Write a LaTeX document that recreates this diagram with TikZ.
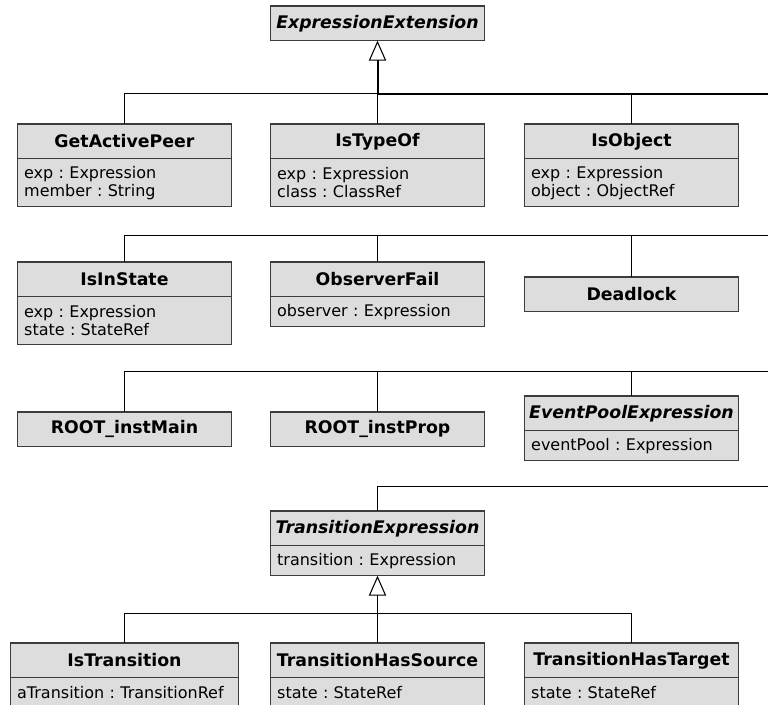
\documentclass[tikz,border=0pt]{standalone}
\usepackage{fontspec}
\setmainfont{DejaVu Sans}
\usetikzlibrary{positioning,arrows.meta}
\definecolor{classfill}{RGB}{221,221,221}
\definecolor{classline}{RGB}{60,60,60}
\frenchspacing
\tikzset{
 hdr/.style={draw=classline,fill=classfill,line width=0.8pt,minimum width=160.5pt,
  minimum height=26pt,anchor=north,inner sep=0pt,outer sep=0pt,
  font=\fontsize{13}{15}\selectfont\bfseries},
 abstr/.style={hdr,font=\fontsize{13}{15}\selectfont\bfseries\itshape},
 attrs/.style={draw=classline,fill=classfill,line width=0.8pt,text width=150.5pt,
  inner xsep=5pt,inner ysep=4pt,outer sep=0pt,align=left,minimum height=22.5pt,
  font=\fontsize{12}{13.5}\selectfont},
 two/.style={minimum height=36pt},
 conn/.style={line width=0.75pt},
 trunk/.style={line width=1.5pt},
 gen/.style={-{Triangle[open,length=15pt,width=13pt,line width=0.8pt]}}
}
\begin{document}
\begin{tikzpicture}[x=0.75pt,y=-0.75pt]
 \useasboundingbox (0,0) rectangle (768,704);
 % super class
 \node[abstr] (exprext) at (377.5,6) {ExpressionExtension};
 % first row
 \node[hdr] (getpeer) at (124.5,124) {GetActivePeer};
 \node[attrs,two,below=0pt of getpeer] (getpeer-a) {exp : Expression\\member : String};
 \node[hdr] (istypeof) at (377.5,124) {IsTypeOf};
 \node[attrs,two,below=0pt of istypeof] (istypeof-a) {exp : Expression\\class : ClassRef};
 \node[hdr] (isobject) at (631.5,124) {IsObject};
 \node[attrs,two,below=0pt of isobject] (isobject-a) {exp : Expression\\object : ObjectRef};
 % second row
 \node[hdr] (isinstate) at (124.5,262) {IsInState};
 \node[attrs,two,below=0pt of isinstate] (isinstate-a) {exp : Expression\\state : StateRef};
 \node[hdr] (obsfail) at (377.5,262) {ObserverFail};
 \node[attrs,below=0pt of obsfail] (obsfail-a) {observer : Expression};
 \node[hdr] (deadlock) at (631.5,277) {Deadlock};
 % third row
 \node[hdr] (rootmain) at (124.5,412) {ROOT\_instMain};
 \node[hdr] (rootprop) at (377.5,412) {ROOT\_instProp};
 \node[abstr] (evpool) at (631.5,396) {EventPoolExpression};
 \node[attrs,below=0pt of evpool] (evpool-a) {eventPool : Expression};
 % transitions
 \node[abstr] (transexp) at (377.5,511) {TransitionExpression};
 \node[attrs,below=0pt of transexp] (transexp-a) {transition : Expression};
 \node[hdr,minimum width=171pt] (istrans) at (124.5,643) {IsTransition};
 \node[attrs,text width=161pt,below=0pt of istrans] (istrans-a) {aTransition : TransitionRef};
 \node[hdr] (hassource) at (377.5,643) {TransitionHasSource};
 \node[attrs,below=0pt of hassource] (hassource-a) {state : StateRef};
 \node[hdr] (hastarget) at (631.5,643) {TransitionHasTarget};
 \node[attrs,below=0pt of hastarget] (hastarget-a) {state : StateRef};

 % bus ends at the right border
 \coordinate (r1) at (768,93.5);
 \coordinate (r2) at (768,235.5);
 \coordinate (r3) at (768,371.5);
 \coordinate (r4) at (768,486.5);
 \coordinate (b5) at (377.5,613.5);

 \foreach \c/\r in {getpeer/r1,istypeof/r1,isobject/r1,
  isinstate/r2,obsfail/r2,deadlock/r2,
  rootmain/r3,rootprop/r3,evpool/r3,transexp/r4}
  \draw[conn] (\c.north) |- (\r);
 \draw[trunk] (istypeof.north |- r1) -- (r1);
 \draw[trunk,gen] (istypeof.north |- r1) -- (exprext.south);

 \draw[conn] (istrans.north) |- (b5) -| (hastarget.north);
 \draw[conn] (hassource.north) -- (b5);
 \draw[conn,gen] (b5) -- (transexp-a.south);
\end{tikzpicture}
\end{document}
